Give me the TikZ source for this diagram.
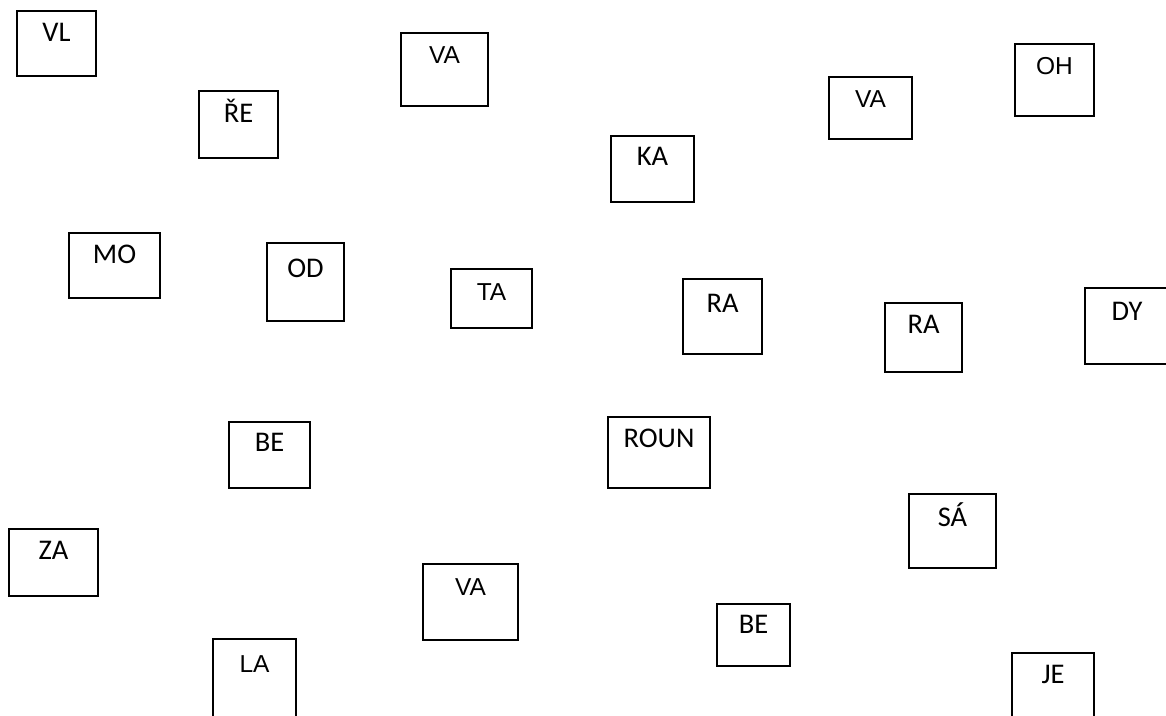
\documentclass[tikz,border=0pt]{standalone}
\usepackage{fontspec}
\newfontfamily\calfont{Carlito}
\newfontfamily\arialfont{Liberation Sans}
\tikzset{
  box/.style={draw=black, line width=2pt, fill=none, inner sep=0pt, outer sep=0pt, rectangle},
  cb/.style={font=\calfont\fontsize{28.5}{31}\selectfont, inner sep=0pt},
  ab/.style={font=\arialfont\fontsize{24.5}{28}\selectfont, inner sep=0pt}
}
\newcommand\mybox[8]{%
  \node[box, anchor=north west, minimum width={#4-#2}, minimum height={#5-#3}] (#1) at (#2,#3) {};
  \node[#6, anchor=base] (#1t) at ([yshift=-#7pt]#1.north) {#8};}
\begin{document}
\begin{tikzpicture}[x=1pt,y=-1pt]
\useasboundingbox (0,0) rectangle (1166,715);
\clip (0,0) rectangle (1166,715);
\fill[white] (0,0) rectangle (1166,715);
\mybox{vl}{17}{11}{96}{76}{cb}{30}{VL}
\mybox{re}{199}{91}{278}{158}{cb}{31}{ŘE}
\mybox{vaa}{401}{33}{488}{106}{ab}{30}{VA}
\mybox{ka}{611}{136}{694}{202}{cb}{29}{KA}
\mybox{vab}{829}{77}{912}{139}{ab}{30}{VA}
\mybox{oh}{1015}{44}{1094}{116}{ab}{30}{OH}
\mybox{mo}{69}{233}{160}{298}{cb}{30}{MO}
\mybox{od}{267}{243}{344}{321}{cb}{34}{OD}
\mybox{ta}{451}{269}{532}{328}{ab}{31}{TA}
\mybox{raa}{683}{279}{762}{354}{cb}{33}{RA}
\mybox{rab}{885}{303}{962}{372}{cb}{30}{RA}
\mybox{dy}{1085}{288}{1169}{364}{cb}{32}{DY}
\mybox{bea}{229}{422}{310}{488}{cb}{29}{BE}
\mybox{roun}{608}{417}{710}{488}{cb}{30}{ROUN}
\mybox{sa}{909}{494}{996}{568}{cb}{32}{SÁ}
\mybox{za}{9}{529}{98}{596}{cb}{30}{ZA}
\mybox{vac}{423}{564}{518}{640}{ab}{31}{VA}
\mybox{beb}{717}{604}{790}{666}{cb}{29}{BE}
\mybox{la}{213}{639}{296}{730}{ab}{33}{LA}
\mybox{je}{1012}{653}{1094}{730}{cb}{30}{JE}
\end{tikzpicture}
\end{document}
